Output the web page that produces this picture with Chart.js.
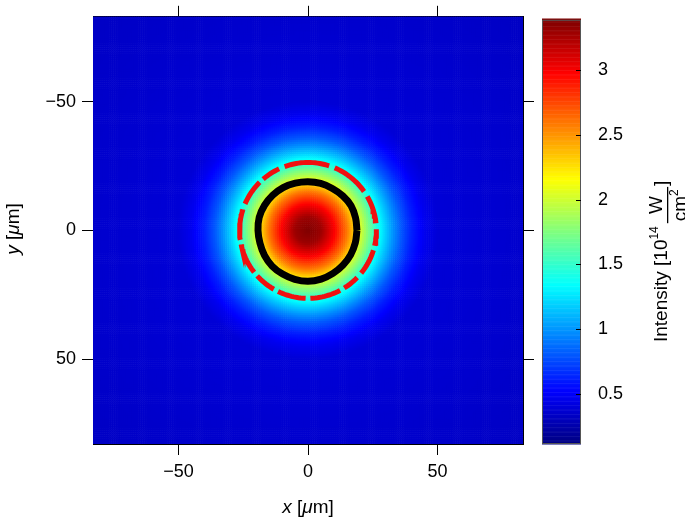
<!DOCTYPE html>
<html>
<head>
<meta charset="utf-8">
<script src="https://cdn.jsdelivr.net/npm/chart.js@4/dist/chart.umd.min.js"></script>
<style>
  body { margin: 0; background: #fff; }
  #wrap { position: relative; width: 685px; height: 521px; }
  #main { position: absolute; left: 0; top: 0; }
  #cbar { position: absolute; left: 530px; top: 0; }
</style>
</head>
<body>
<div id="wrap">
  <canvas id="main" width="685" height="521"></canvas>
  <canvas id="cbar" width="155" height="521"></canvas>
</div>
<script>
// radial intensity profile (r in µm, I in 1e14 W/cm²)
const profileR = [0, 5, 10, 15, 18, 21, 24, 27, 30, 33, 36, 40, 45, 50, 120];
const profileI = [3.39, 3.3, 3.0, 2.6, 2.3, 1.95, 1.68, 1.4, 1.18, 0.98, 0.8, 0.62, 0.47, 0.39, 0.33];

// black ring: radius per angle
const blackAngles = [0, 15, 30, 45, 60, 75, 90, 105, 120, 135, 150, 165, 180, 195, 210, 225, 240, 255, 270, 285, 300, 315, 330, 345, 360];
const blackRadii = [18.9, 19.0, 19.2, 19.0, 18.8, 18.9, 18.9, 19.0, 19.2, 19.3, 19.4, 19.5, 19.3, 19.2, 19.4, 19.6, 19.6, 19.7, 19.8, 19.6, 19.3, 19.1, 19.0, 18.9, 18.9];

// red ring: broken segments (start/end angle in degrees), radius
const redSegments = [[6, 31], [35, 68], [72, 111], [115, 131], [135, 158], [162, 188], [192, 218],
  [222, 240], [244, 268], [272, 298], [302, 317], [321, 343], [347, 362]];
const redRadius = 26.4;

const axisTicks = [-50, 0, 50];
const cbarTicks = [0.5, 1, 1.5, 2, 2.5, 3];
const cMin = 0.11, cMax = 3.39;
const FONT = 'Liberation Sans, Arial, sans-serif';

function jet(v) {
  const t = Math.max(0, Math.min(1, (v - cMin) / (cMax - cMin)));
  const f = (x) => Math.max(0, Math.min(1, x));
  const r = f(Math.min(4 * t - 1.5, -4 * t + 4.5));
  const g = f(Math.min(4 * t - 0.5, -4 * t + 3.5));
  const b = f(Math.min(4 * t + 0.5, -4 * t + 2.5));
  return `rgb(${Math.round(r * 255)},${Math.round(g * 255)},${Math.round(b * 255)})`;
}

function profileAt(r) {
  for (let i = 1; i < profileR.length; i++) {
    if (r <= profileR[i]) {
      const k = (r - profileR[i - 1]) / (profileR[i] - profileR[i - 1]);
      return profileI[i - 1] + k * (profileI[i] - profileI[i - 1]);
    }
  }
  return profileI[profileI.length - 1];
}

const rad = (d) => d * Math.PI / 180;
const blackData = blackAngles.map((a, i) => ({ x: blackRadii[i] * Math.cos(rad(a)), y: -blackRadii[i] * Math.sin(rad(a)) }));
const redData = [];
redSegments.forEach(([a0, a1]) => {
  for (let a = a0; a <= a1; a += 2) redData.push({ x: redRadius * Math.cos(rad(a)), y: -redRadius * Math.sin(rad(a)) });
  redData.push({ x: null, y: null });
});

const heatmap = {
  id: 'heatmap',
  beforeDatasetsDraw(chart) {
    const { ctx, chartArea: ca, scales: { x, y } } = chart;
    ctx.save();
    ctx.beginPath();
    ctx.rect(ca.left, ca.top, ca.right - ca.left, ca.bottom - ca.top);
    ctx.clip();
    const step = 0.8;
    for (let gx = -84; gx < 84; gx += step) {
      const px0 = x.getPixelForValue(gx), px1 = x.getPixelForValue(gx + step);
      for (let gy = -84; gy < 84; gy += step) {
        const py0 = y.getPixelForValue(gy), py1 = y.getPixelForValue(gy + step);
        const r = Math.hypot(gx + step / 2, gy + step / 2);
        ctx.fillStyle = jet(profileAt(r));
        ctx.fillRect(px0, Math.min(py0, py1), px1 - px0 + 0.6, Math.abs(py1 - py0) + 0.6);
      }
    }
    ctx.restore();
  },
  afterDraw(chart) {
    const { ctx } = chart;
    ctx.save();
    ctx.fillStyle = '#000';
    ctx.textBaseline = 'alphabetic';
    const parts = [['italic 19px ' + FONT, 'x'], ['19px ' + FONT, ' ['], ['italic 19px ' + FONT, 'μ'], ['19px ' + FONT, 'm]']];
    const drawParts = (cx, cy) => {
      let w = 0;
      parts.forEach(([f, s]) => { ctx.font = f; w += ctx.measureText(s).width; });
      let px = cx - w / 2;
      parts.forEach(([f, s]) => { ctx.font = f; ctx.fillText(s, px, cy); px += ctx.measureText(s).width; });
    };
    drawParts(308, 513);
    parts[0][1] = 'y';
    ctx.translate(19, 229);
    ctx.rotate(-Math.PI / 2);
    drawParts(0, 0);
    ctx.restore();
  }
};

const minus = (v) => (v < 0 ? '\u2212' + -v : '' + v);
const tickAxis = (pos, extra) => Object.assign({
  type: 'linear', position: pos, min: -83, max: 83,
  afterBuildTicks: (s) => { s.ticks = axisTicks.map((v) => ({ value: v })); },
  grid: { drawOnChartArea: false, tickLength: 11, color: '#000', lineWidth: 1 },
  border: { display: true, color: '#000', width: 1 },
}, extra);

new Chart(document.getElementById('main'), {
  type: 'scatter',
  data: {
    datasets: [
      { data: blackData, showLine: true, borderColor: '#000', borderWidth: 7, pointRadius: 0, tension: 0.4 },
      { data: redData, showLine: true, spanGaps: false, borderColor: '#f01010', borderWidth: 5, pointRadius: 0, borderCapStyle: 'butt' },
    ],
  },
  options: {
    responsive: false,
    animation: false,
    plugins: { legend: { display: false }, tooltip: { enabled: false } },
    layout: { padding: 0 },
    scales: {
      x: tickAxis('bottom', {
        ticks: { color: '#000', font: { size: 18, family: FONT }, padding: 6, maxRotation: 0, callback: minus },
        afterFit: (s) => { s.height = 77; },
      }),
      x2: tickAxis('top', { ticks: { display: false }, afterFit: (s) => { s.height = 14; } }),
      y: tickAxis('left', {
        reverse: true,
        ticks: { color: '#000', font: { size: 18, family: FONT }, padding: 6, callback: minus },
        afterFit: (s) => { s.width = 93; },
      }),
      y2: tickAxis('right', { reverse: true, ticks: { display: false }, afterFit: (s) => { s.width = 162; } }),
    },
  },
  plugins: [heatmap],
});

const colorbar = {
  id: 'colorbar',
  beforeDatasetsDraw(chart) {
    const { ctx, chartArea: ca, scales: { y } } = chart;
    ctx.save();
    for (let v = cMin; v < cMax; v += 0.01) {
      const p0 = y.getPixelForValue(v), p1 = y.getPixelForValue(v + 0.01);
      ctx.fillStyle = jet(v + 0.005);
      ctx.fillRect(ca.left, p1, ca.right - ca.left, p0 - p1 + 0.5);
    }
    ctx.strokeStyle = '#555';
    ctx.lineWidth = 1;
    ctx.strokeRect(ca.left + 0.5, ca.top + 0.5, ca.right - ca.left - 1, ca.bottom - ca.top - 1);
    ctx.strokeStyle = '#000';
    cbarTicks.forEach((v) => {
      const p = Math.round(y.getPixelForValue(v)) + 0.5;
      ctx.beginPath(); ctx.moveTo(ca.right - 5, p); ctx.lineTo(ca.right, p); ctx.stroke();
    });
    // axis title
    ctx.fillStyle = '#000';
    ctx.translate(137, 230);
    ctx.rotate(-Math.PI / 2);
    ctx.textBaseline = 'alphabetic';
    let px = -112;
    const put = (s, size, dy) => { ctx.font = size + 'px ' + FONT; ctx.fillText(s, px, dy); px += ctx.measureText(s).width; };
    put('Intensity [10', 19, 0);
    put('14', 12, -9);
    px += 3;
    const fx = px;
    ctx.font = '19px ' + FONT;
    const wW = ctx.measureText('W').width;
    const cmW = ctx.measureText('cm').width + 7;
    const fw = Math.max(wW, cmW) + 4;
    ctx.fillText('W', fx + (fw - wW) / 2, -5);
    ctx.fillRect(fx, 0, fw, 1.3);
    ctx.fillText('cm', fx + 2, 19);
    ctx.font = '12px ' + FONT;
    ctx.fillText('2', fx + 2 + cmW - 7, 11);
    px = fx + fw + 1;
    put(']', 19, 0);
    ctx.restore();
  },
};

new Chart(document.getElementById('cbar'), {
  type: 'scatter',
  data: { datasets: [{ data: [] }] },
  options: {
    responsive: false,
    animation: false,
    plugins: { legend: { display: false }, tooltip: { enabled: false } },
    layout: { padding: { left: 12, top: 14, bottom: 77 } },
    scales: {
      x: { display: false, min: 0, max: 1 },
      y: {
        position: 'right', min: cMin, max: cMax,
        afterBuildTicks: (s) => { s.ticks = cbarTicks.map((v) => ({ value: v })); },
        grid: { display: false },
        border: { display: false },
        ticks: { color: '#000', font: { size: 18, family: FONT }, padding: 9, callback: (v) => '' + v },
        afterFit: (s) => { s.width = 104; },
      },
    },
  },
  plugins: [colorbar],
});
</script>
</body>
</html>
